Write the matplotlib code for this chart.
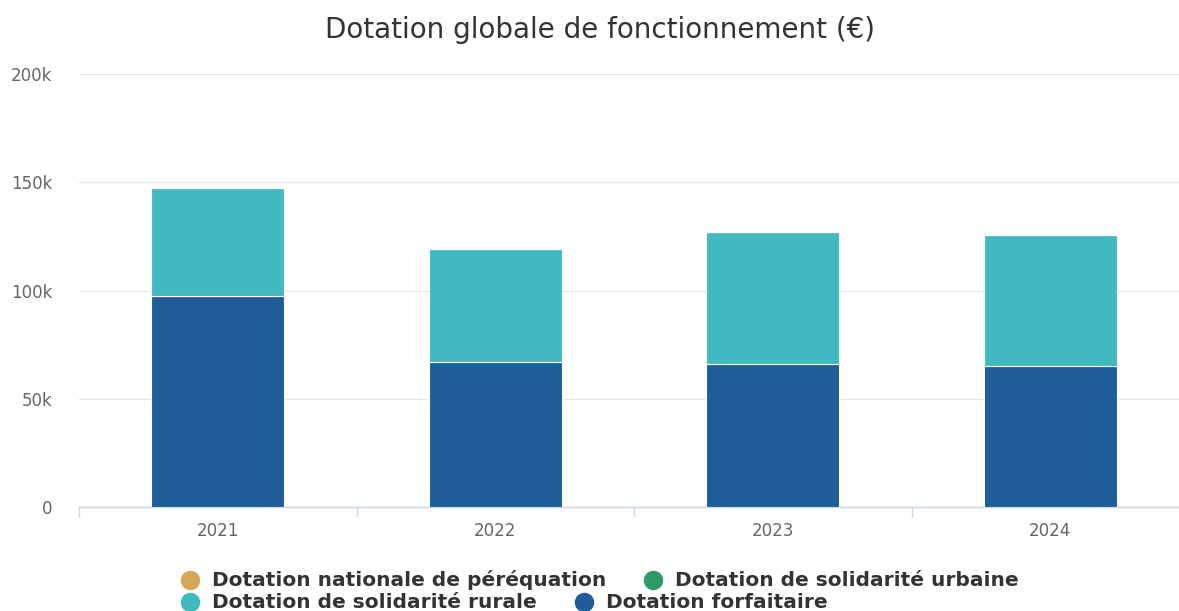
import numpy as np
import matplotlib.pyplot as plt
from matplotlib.lines import Line2D

# data (euros)
years = ['2021', '2022', '2023', '2024']
series_names = ['Dotation nationale de péréquation', 'Dotation de solidarité urbaine',
                'Dotation de solidarité rurale', 'Dotation forfaitaire']
series_colors = ['#d5a75a', '#2f9a69', '#41b9c1', '#1f5d98']
forfaitaire = [97500, 67000, 66100, 65100]
rurale = [49800, 52200, 60900, 60500]
perequation = [0, 0, 0, 0]
urbaine = [0, 0, 0, 0]
y_ticks = [0, 50000, 100000, 150000, 200000]
y_labels = ['0', '50k', '100k', '150k', '200k']

W, H = 1179, 611
fig = plt.figure(figsize=(W / 100, H / 100), dpi=100)
ax = fig.add_axes([79 / W, (H - 507) / H, (1179 - 79) / W, 433 / H])

x = np.arange(len(years))
width = 0.48
# stacked from bottom: forfaitaire, rurale, urbaine, perequation
stack = [(forfaitaire, series_colors[3]), (rurale, series_colors[2]),
         (urbaine, series_colors[1]), (perequation, series_colors[0])]
bottom = np.zeros(len(years))
for vals, col in stack:
    vals = np.array(vals, dtype=float)
    ax.bar(x, vals, width, bottom=bottom, color=col, edgecolor='white',
           linewidth=0.8, zorder=3)
    bottom += vals

ax.set_yticks(y_ticks)
ax.set_yticklabels(y_labels)
ax.set_xticks(x)
ax.set_xticklabels(years)
ax.set_xticks(np.arange(-0.5, 4, 1), minor=True)
ax.set_ylim(0, 200000)
# the plot area runs a little past the right edge of the picture
ax.set_xlim(-0.5, 3.5 - 10 / 277.5)

ax.grid(axis='y', color='#e6e6e6', linewidth=1, zorder=0)
for s in ['top', 'right', 'left']:
    ax.spines[s].set_visible(False)
ax.spines['bottom'].set_color('#ccd6eb')
ax.spines['bottom'].set_linewidth(1)

ax.tick_params(axis='y', length=0, pad=19, labelsize=12, labelcolor='#666666')
ax.tick_params(axis='x', which='major', length=0, pad=11, labelsize=12, labelcolor='#666666')
ax.tick_params(axis='x', which='minor', length=7.5, width=1, color='#ccd6eb')

fig.text(600 / W, 1 - 30 / H, 'Dotation globale de fonctionnement (€)', ha='center', va='center',
         fontsize=20, color='#333333')

# legend, laid out as flowing rows
rows = [[0, 1], [2, 3]]
row_y = [580, 602]
fig.canvas.draw()
renderer = fig.canvas.get_renderer()
for r, items in enumerate(rows):
    xpos = 190
    for i in items:
        yy = 1 - row_y[r] / H
        fig.add_artist(Line2D([xpos / W], [yy], marker='o', markersize=13,
                              color=series_colors[i], linestyle='none'))
        t = fig.text((xpos + 22) / W, yy, series_names[i], ha='left', va='center',
                     fontsize=14.5, fontweight='bold', color='#333333')
        bb = t.get_window_extent(renderer)
        xpos = bb.x1 + 47

fig.savefig('out.png', dpi=100)
